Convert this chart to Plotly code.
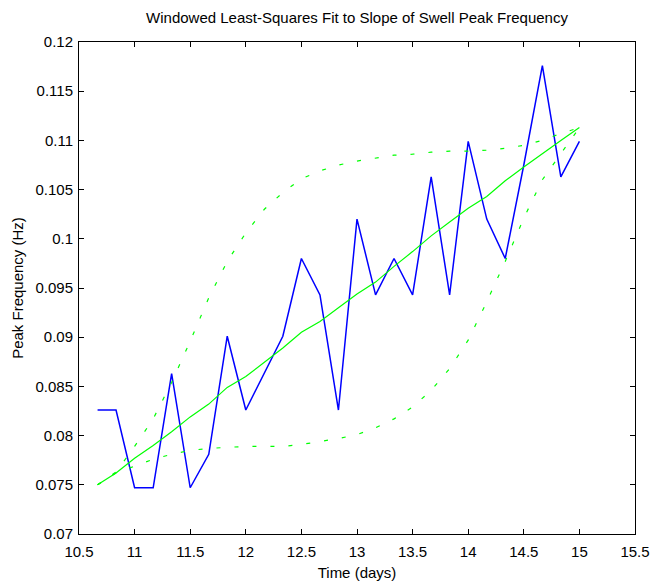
import plotly.graph_objects as go

# Time stamps (days), every 4 hours
time_days = [10.667, 10.833, 11.000, 11.167, 11.333, 11.500, 11.667, 11.833,
             12.000, 12.167, 12.333, 12.500, 12.667, 12.833, 13.000, 13.167,
             13.333, 13.500, 13.667, 13.833, 14.000, 14.167, 14.333, 14.500,
             14.667, 14.833, 15.000]

# Measured swell peak frequency (Hz)
peak_freq = [0.0826, 0.0826, 0.0747, 0.0747, 0.0863, 0.0747, 0.0781, 0.0901,
             0.0826, 0.0863, 0.0901, 0.0980, 0.0943, 0.0826, 0.1020, 0.0943,
             0.0980, 0.0943, 0.1063, 0.0943, 0.1099, 0.1020, 0.0980, 0.1075,
             0.1176, 0.1063, 0.1099]

# Windowed least-squares fit
fit_freq = [0.0750, 0.0762, 0.0777, 0.0790, 0.0804, 0.0819, 0.0832, 0.0849,
            0.0860, 0.0875, 0.0889, 0.0905, 0.0916, 0.0930, 0.0944, 0.0956,
            0.0972, 0.0987, 0.1003, 0.1017, 0.1031, 0.1043, 0.1059, 0.1073,
            0.1087, 0.1100, 0.1113]

# Upper and lower bounds of the fit
upper_freq = [0.0750, 0.0763, 0.0789, 0.0817, 0.0854, 0.0896, 0.0940, 0.0977,
              0.1006, 0.1030, 0.1047, 0.1061, 0.1069, 0.1075, 0.1079, 0.1082,
              0.1085, 0.1086, 0.1088, 0.1089, 0.1089, 0.1090, 0.1092, 0.1095,
              0.1100, 0.1107, 0.1113]

lower_freq = [0.0750, 0.0762, 0.0769, 0.0776, 0.0781, 0.0785, 0.0787, 0.0788,
              0.0789, 0.0789, 0.0789, 0.0791, 0.0794, 0.0797, 0.0801, 0.0808,
              0.0817, 0.0829, 0.0846, 0.0868, 0.0897, 0.0936, 0.0977, 0.1021,
              0.1060, 0.1086, 0.1113]

x_ticks = [10.5, 11, 11.5, 12, 12.5, 13, 13.5, 14, 14.5, 15, 15.5]
x_tick_labels = ["10.5", "11", "11.5", "12", "12.5", "13", "13.5", "14", "14.5", "15", "15.5"]
y_ticks = [0.07, 0.075, 0.08, 0.085, 0.09, 0.095, 0.1, 0.105, 0.11, 0.115, 0.12]
y_tick_labels = ["0.07", "0.075", "0.08", "0.085", "0.09", "0.095", "0.1", "0.105", "0.11", "0.115", "0.12"]

FONT = "Liberation Sans, Arial, sans-serif"

fig = go.Figure()

fig.add_trace(go.Scatter(x=time_days, y=peak_freq, mode="lines",
                         line=dict(color="#0000FF", width=1.5), showlegend=False))
fig.add_trace(go.Scatter(x=time_days, y=fit_freq, mode="lines",
                         line=dict(color="#00FF00", width=1.2), showlegend=False))
fig.add_trace(go.Scatter(x=time_days, y=upper_freq, mode="lines",
                         line=dict(color="#00FF00", width=1.2, dash="4px,14px"),
                         showlegend=False))
fig.add_trace(go.Scatter(x=time_days, y=lower_freq, mode="lines",
                         line=dict(color="#00FF00", width=1.2, dash="4px,14px"),
                         showlegend=False))

axis_common = dict(
    showgrid=False, zeroline=False, showline=True, mirror="allticks",
    linecolor="black", linewidth=1, ticks="inside", ticklen=5,
    tickcolor="black", tickwidth=1, automargin=False,
    tickfont=dict(family=FONT, size=15, color="black"),
)

fig.update_xaxes(range=[10.5, 15.5], tickvals=x_ticks, ticktext=x_tick_labels,
                 ticklabelstandoff=4,
                 title=dict(text="Time (days)", font=dict(family=FONT, size=15, color="black"),
                            standoff=8),
                 **axis_common)
fig.update_yaxes(range=[0.07, 0.12], tickvals=y_ticks, ticktext=y_tick_labels,
                 ticklabelstandoff=2,
                 title=dict(text="Peak Frequency (Hz)", font=dict(family=FONT, size=15, color="black"),
                            standoff=8),
                 **axis_common)

fig.update_layout(
    width=652, height=584,
    margin=dict(l=79, r=17, t=42, b=50),
    paper_bgcolor="white", plot_bgcolor="white",
    title=dict(text="Windowed Least-Squares Fit to Slope of Swell Peak Frequency",
               font=dict(family=FONT, size=15, color="black"),
               x=0.5, xanchor="center", y=1 - 18 / 584, yanchor="middle",
               xref="paper"),
)

fig.write_html("out.html")
